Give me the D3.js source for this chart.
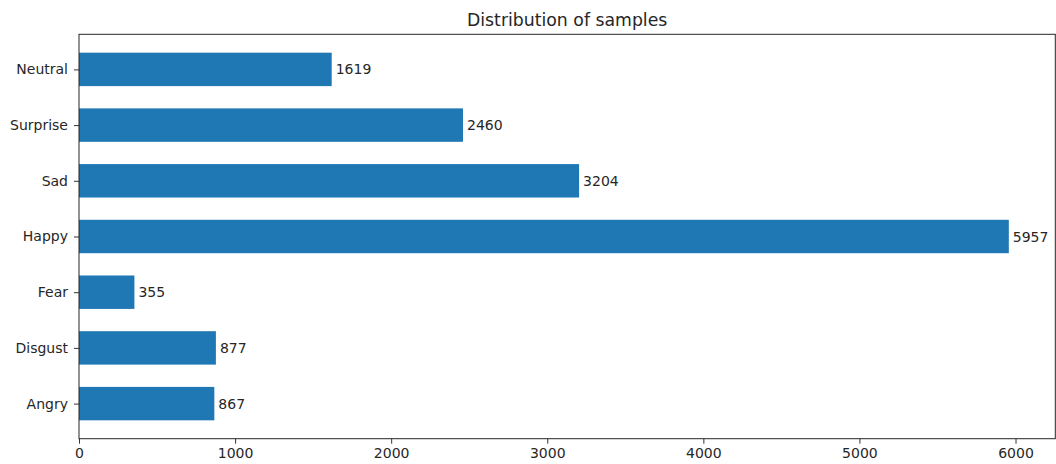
<!DOCTYPE html>
<html><head><meta charset="utf-8">
<script src="https://cdn.jsdelivr.net/npm/d3@7"></script>
<style>body{margin:0;background:#fff}svg{display:block}text{font-family:"DejaVu Sans",sans-serif;fill:#262626}</style>
</head><body><svg id="c" width="1056" height="464"></svg>
<script>
const categories = ["Angry","Disgust","Fear","Happy","Sad","Surprise","Neutral"];
const values = [867,877,355,5957,3204,2460,1619];
const xTicks = [0,1000,2000,3000,4000,5000,6000];
const title = "Distribution of samples";

const svg = d3.select("#c");
const L=79, R=1055.3, T=34.3, B=438.7;
const xmax = d3.max(values)*1.05;
const x = d3.scaleLinear().domain([0,xmax]).range([L,R]);
const n = categories.length;
const pad = (n-1+0.6)*0.05;
const y = d3.scaleLinear().domain([-0.3-pad, n-1+0.3+pad]).range([B,T]);
const bh = 0.6;

svg.selectAll("rect.bar").data(values).join("rect")
  .attr("x", x(0)).attr("y",(d,i)=>y(i+bh/2))
  .attr("width", d=>x(d)-x(0)).attr("height",(d,i)=>y(i-bh/2)-y(i+bh/2))
  .attr("fill","#1f77b4");

svg.selectAll("text.val").data(values).join("text")
  .attr("x", d=>x(d)+4).attr("y",(d,i)=>y(i)).attr("dy","0.36em")
  .attr("font-size",14).text(d=>d);

const xa = svg.append("g").attr("transform",`translate(0,${B})`)
  .call(d3.axisBottom(x).tickValues(xTicks).tickFormat(d3.format("d")).tickSize(5).tickPadding(4));
const ya = svg.append("g").attr("transform",`translate(${L},0)`)
  .call(d3.axisLeft(y).tickValues(d3.range(n)).tickFormat(i=>categories[i]).tickSize(5).tickPadding(6));
[xa,ya].forEach(g=>{g.selectAll("text").attr("font-size",14).attr("font-family","DejaVu Sans").attr("fill","#262626");
  g.selectAll("line").attr("stroke","#333").attr("stroke-width",1);
  g.select(".domain").remove();});
svg.append("rect").attr("x",L).attr("y",T).attr("width",R-L).attr("height",B-T)
  .attr("fill","none").attr("stroke","#262626").attr("stroke-width",1);
svg.append("text").attr("x",(L+R)/2).attr("y",T-8).attr("text-anchor","middle")
  .attr("font-size",17.3).text(title);
</script></body></html>
